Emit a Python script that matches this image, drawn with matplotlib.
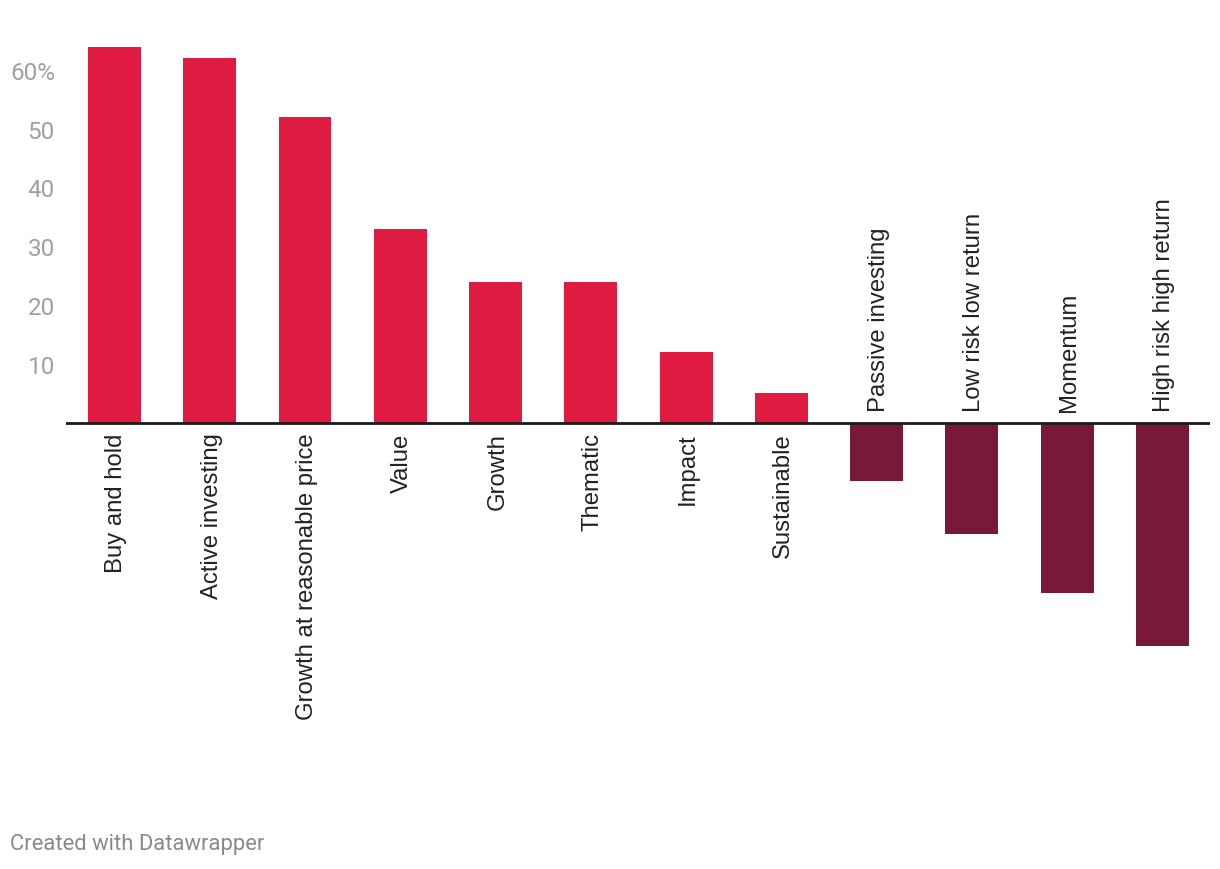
import matplotlib
matplotlib.use("Agg")
import matplotlib.pyplot as plt
import matplotlib.transforms as mtransforms

categories = ["Buy and hold", "Active investing", "Growth at reasonable price", "Value",
              "Growth", "Thematic", "Impact", "Sustainable", "Passive investing",
              "Low risk low return", "Momentum", "High risk high return"]
values = [64, 62, 52, 33, 24, 24, 12, 5, -10, -19, -29, -38]
yticks = [10, 20, 30, 40, 50, 60]
ytick_labels = ["10", "20", "30", "40", "50", "60%"]

POS = "#e01b42"
NEG = "#781a37"

W, H = 1220, 870
fig = plt.figure(figsize=(W / 100, H / 100), dpi=100)
zero_px = 423.5
top_px, bot_px = 40, 760
ppu = 5.875
ymax = (zero_px - top_px) / ppu
ymin = (zero_px - bot_px) / ppu
ax = fig.add_axes([66 / W, 1 - bot_px / H, (1210 - 66) / W, (bot_px - top_px) / H])
ax.set_xlim(-0.509, 11.5)
ax.set_ylim(ymin, ymax)

colors = [POS if v >= 0 else NEG for v in values]
ax.bar(range(len(values)), values, width=0.556, color=colors, zorder=2)
ax.axhline(0, color="#1a1a1a", lw=2, zorder=3)

for s in ax.spines.values():
    s.set_visible(False)
ax.set_xticks([])
ax.set_yticks(yticks)
ax.set_yticklabels(ytick_labels)
ax.tick_params(axis="y", length=0, pad=8, labelsize=17.5, labelcolor="#a0a0a0")
for t in ax.get_yticklabels():
    t.set_fontfamily("Roboto")

shift = mtransforms.ScaledTranslation(2 / 100, 0, fig.dpi_scale_trans)
for i, (c, v) in enumerate(zip(categories, values)):
    if v >= 0:
        ax.text(i, -10 / ppu, c, rotation=90, ha="center", va="top",
                fontsize=17.2, color="#222222", family="Liberation Sans",
                transform=ax.transData + shift)
    else:
        ax.text(i, 11 / ppu, c, rotation=90, ha="center", va="bottom",
                fontsize=17.2, color="#222222", family="Liberation Sans",
                transform=ax.transData + shift)

fig.text(10 / W, 1 - 845 / H, "Created with Datawrapper", ha="left", va="center",
         fontsize=15.8, color="#8a8a8a", family="Roboto")

fig.savefig("out.png", dpi=100)
